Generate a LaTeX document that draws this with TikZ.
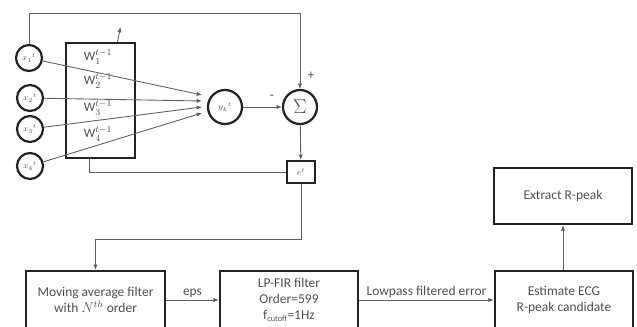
\documentclass[tikz,border=0pt]{standalone}
\usepackage{fontspec}
\setmainfont{Carlito}
\usetikzlibrary{arrows.meta,positioning,calc}
\definecolor{wire}{RGB}{95,95,95}
\definecolor{edge}{RGB}{35,35,35}
\definecolor{ink}{RGB}{80,80,80}
\tikzset{
  >={Latex[length=1.6mm,width=1.3mm]},
  font=\fontsize{11.5}{13.5}\selectfont,
  neuron/.style={circle, draw=edge, line width=1.9pt, minimum size=0.78cm,
    inner sep=0pt, text=ink, font=\scriptsize},
  bigneuron/.style={neuron, minimum size=1.02cm},
  block/.style={draw=edge, line width=2pt, align=center, text=ink, inner sep=2pt},
  wlbl/.style={text=ink, font=\fontsize{11}{13}\selectfont, inner sep=1pt},
  arlbl/.style={text=ink, inner sep=1.5pt},
  % connectors
  link/.style={wire, line width=0.75pt},
  arlink/.style={link, ->},
}

\begin{document}
\begin{tikzpicture}[x=0.03cm, y=-0.03cm]
\clip (0,0) rectangle (637,326);

% ---------- inputs ----------
\node[neuron] (x1) at (29,58)  {$x_1{}^t$};
\node[neuron] (x2) at (30,98)  {$x_2{}^t$};
\node[neuron] (x3) at (30,129) {$x_3{}^t$};
\node[neuron] (x4) at (30,166) {$x_4{}^t$};

% ---------- weights ----------
\node[block, line width=1.7pt, minimum width=2.07cm, minimum height=3.45cm] (w) at (100.5,100.5) {};
\node[wlbl] (w1) at (98,57)  {W$_1^{t-1}$};
\node[wlbl] (w2) at (98,81)  {W$_2^{t-1}$};
\node[wlbl] (w3) at (98,108) {W$_3^{t-1}$};
\node[wlbl] (w4) at (98,134) {W$_4^{t-1}$};

% ---------- output, error ----------
\node[bigneuron] (y)   at (225,107) {$y_k{}^t$};
\node[bigneuron, font=\LARGE] (sum) at (300,107) {$\Sigma$};
\node[block, line width=1.7pt, minimum width=0.84cm, minimum height=0.66cm,
  font=\scriptsize] (e) at (301,172) {$e^t$};

\coordinate (t1) at (202,95);
\coordinate (t2) at (202,101);
\coordinate (t3) at (202,107);
\coordinate (t4) at (202,113);

\draw[arlink] (x1) -- (t1);
\draw[arlink] (x2) -- (t2);
\draw[arlink] (x3) -- (t3);
\draw[arlink] (x4) -- (t4);

\draw[arlink] (y) -- (sum);
\node[arlbl] (minus) at (272,97) {-};
\node[arlbl] (plus) at (311,76) {+};
\draw[arlink] (x1.north) -- (x1 |- 0,13) -| (sum.north);
\draw[arlink] (sum) -- (e);
\draw[link] (e.west) -| ($(w.south west)!0.35!(w.south east)$);
\draw[arlink] ($(w.north west)!0.74!(w.north east)$) -- ++(3,-15);

% ---------- post-processing ----------
\node[block, minimum width=4.17cm, minimum height=1.74cm] (ma) at (95.5,300)
  {Moving average filter\\with $N^{th}$ order};
\node[block, minimum width=4.14cm, minimum height=1.74cm] (lp) at (289,300)
  {LP-FIR filter\\Order=599\\f$_{\mbox{\scriptsize cutoff}}$=1Hz};
\node[block, minimum width=4.14cm, minimum height=1.74cm] (est) at (564,300)
  {Estimate ECG\\R-peak candidate};
\node[block, minimum width=4.14cm, minimum height=1.68cm] (ext) at (563,196)
  {Extract R-peak};

\draw[arlink] (e.south) -- ++(0,55) -| (ma.north);
\draw[arlink] (ma) -- (lp) node[midway, above, arlbl] {eps};
\draw[arlink] (lp) -- (est) node[midway, above, arlbl] {Lowpass filtered error};
\draw[arlink] (est.north -| ext.south) -- (ext.south);

\end{tikzpicture}
\end{document}
